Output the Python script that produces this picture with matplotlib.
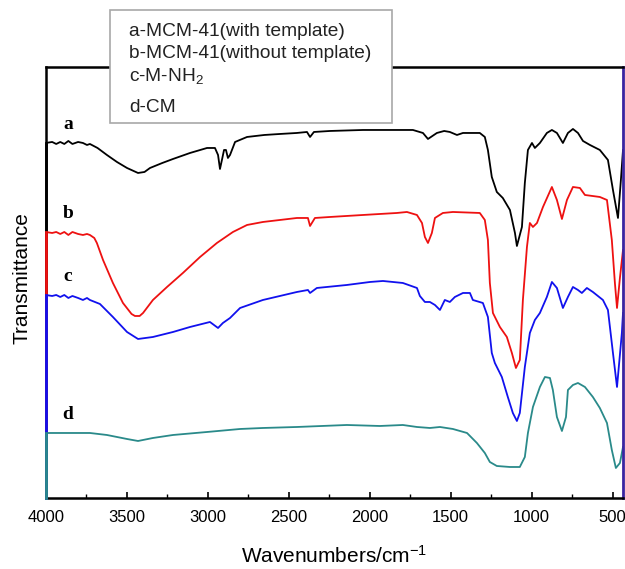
import numpy as np
import matplotlib
matplotlib.use("Agg")
import matplotlib.pyplot as plt
from matplotlib.patches import Rectangle
from matplotlib.ticker import MultipleLocator

plt.rcParams['font.family'] = ['Liberation Sans', 'DejaVu Sans']
plt.rcParams['mathtext.fontset'] = 'custom'
plt.rcParams['mathtext.rm'] = 'Liberation Sans'
plt.rcParams['mathtext.it'] = 'Liberation Sans'

# FTIR spectra, transmittance in arbitrary (offset) units
wn_a = [4000, 3960, 3935, 3910, 3885, 3860, 3835, 3800, 3770, 3745, 3727, 3680, 3622, 3560, 3498,
        3430, 3390, 3356, 3280, 3214, 3109, 3004, 2955, 2936, 2924, 2912, 2899, 2887, 2875, 2862, 2831,
        2757, 2650, 2554, 2450, 2387, 2368, 2344, 2245, 2041, 1832, 1733, 1671, 1640, 1585, 1540,
        1505, 1461, 1424, 1320, 1289, 1270, 1246, 1215, 1178, 1134, 1103, 1091, 1060, 1042, 1023,
        998, 980, 949, 906, 875, 844, 807, 776, 745, 714, 683, 640, 579, 529, 498, 467, 449, 436]
T_a = [355, 356, 354, 356, 354, 357, 354, 356, 355, 353, 354, 350, 343, 336, 330,
       325, 326, 330, 335, 339, 345, 350, 350, 343, 329, 338, 348, 348, 340, 343, 356,
       361, 363, 364, 365, 366, 361, 366, 367, 368, 368, 368, 365, 359, 365, 367,
       366, 363, 365, 365, 361, 348, 321, 306, 300, 288, 265, 252, 271, 315, 348,
       355, 350, 355, 365, 368, 365, 355, 365, 369, 365, 357, 353, 348, 338, 308, 280, 318, 348]

wn_b = [4000, 3960, 3935, 3910, 3885, 3860, 3835, 3800, 3770, 3745, 3727, 3700, 3684, 3646, 3585, 3523,
        3470, 3449, 3420, 3399, 3338, 3251, 3153, 3047, 2943, 2844, 2757, 2659, 2449, 2381, 2368, 2338, 2245,
        2041, 1832, 1770, 1708, 1677, 1659, 1640, 1616, 1597, 1548, 1486, 1320, 1289, 1270, 1258,
        1239, 1196, 1153, 1122, 1097, 1073, 1054, 1029, 1011, 992, 967, 930, 875, 844, 813,
        782, 745, 702, 671, 579, 535, 505, 486, 473, 455, 436]
T_b = [266, 265, 266, 264, 266, 263, 266, 264, 263, 264, 263, 260, 255, 238, 215, 195,
       184, 182, 182, 185, 198, 211, 225, 241, 255, 266, 273, 276, 280, 280, 272, 280, 281,
       283, 285, 286, 283, 275, 261, 255, 265, 280, 285, 286, 285, 278, 258, 215,
       185, 171, 161, 145, 130, 138, 198, 251, 275, 271, 275, 291, 311, 298, 279,
       298, 311, 310, 303, 301, 298, 258, 215, 190, 220, 248]

wn_c = [4000, 3960, 3935, 3910, 3885, 3860, 3835, 3800, 3770, 3745, 3727, 3665, 3585, 3498, 3430,
        3338, 3214, 3109, 2986, 2936, 2906, 2862, 2800, 2659, 2449, 2381, 2368, 2326, 2141, 1998,
        1918, 1795, 1708, 1690, 1659, 1628, 1597, 1566, 1536, 1505, 1474, 1424, 1381, 1363, 1301,
        1270, 1246, 1227, 1184, 1147, 1116, 1091, 1073, 1042, 1011, 980, 949, 906, 875, 844,
        807, 776, 745, 714, 690, 659, 622, 560, 529, 498, 473, 443, 436]
T_c = [203, 202, 203, 201, 203, 200, 202, 200, 198, 200, 198, 194, 181, 166, 159,
       161, 166, 171, 176, 170, 175, 180, 190, 198, 206, 208, 205, 210, 213, 216,
       217, 215, 210, 202, 196, 196, 193, 188, 198, 196, 201, 205, 205, 198, 195,
       181, 145, 135, 121, 101, 85, 77, 85, 131, 165, 178, 185, 201, 216, 210,
       190, 201, 211, 208, 205, 210, 206, 198, 188, 145, 111, 165, 185]

wn_d = [4000, 3727, 3622, 3498, 3430, 3338, 3214, 3004, 2800, 2659, 2449, 2141, 1937, 1795, 1708,
        1628, 1566, 1486, 1399, 1338, 1289, 1258, 1215, 1134, 1073, 1042, 1023, 992, 949, 918,
        887, 869, 844, 813, 788, 776, 745, 714, 671, 622, 579, 535, 505, 480, 455, 436]
T_d = [65, 65, 63, 59, 57, 60, 63, 66, 69, 70, 71, 73, 72, 73, 71,
       70, 71, 69, 65, 55, 45, 36, 32, 31, 31, 41, 65, 91, 111, 121,
       120, 108, 81, 67, 81, 108, 113, 115, 111, 101, 90, 75, 48, 30, 35, 51]

series = [(wn_a, T_a, 'black', 'a'), (wn_b, T_b, '#ee1111', 'b'),
          (wn_c, T_c, '#1111ee', 'c'), (wn_d, T_d, '#2a8a8a', 'd')]
legend_lines = ['a-MCM-41(with template)', 'b-MCM-41(without template)',
                r'c-M-NH$_\mathrm{2}$', 'd-CM']

fig = plt.figure(figsize=(6.25, 5.69), dpi=100)
ax = fig.add_axes([0.0731, 0.1248, 0.9237, 0.7575])

for wn, T, col, lab in series:
    ax.plot(wn, T, color=col, lw=1.3, solid_joinstyle='round')
    # vertical drop at the start of each trace, over the left spine
    ax.plot([wn[0], wn[0]], [T[0], 0], color=col, lw=2.0, clip_on=False, zorder=4)
    ax.text(3862, T[0] + 18, lab, fontsize=14, fontweight='bold',
            family='Liberation Serif', ha='center', va='center')

ax.set_xlim(4000, 436)
ax.set_ylim(0, 431)
ax.xaxis.set_major_locator(MultipleLocator(500))
ax.xaxis.set_minor_locator(MultipleLocator(250))
ax.tick_params(axis='x', which='both', direction='in', top=False, labelsize=12, pad=9)
ax.tick_params(axis='x', which='major', length=4, width=1.2)
ax.tick_params(axis='x', which='minor', length=3, width=1.0)
ax.set_yticks([])
for s in ['left', 'bottom', 'top']:
    ax.spines[s].set_linewidth(1.8)
ax.spines['right'].set_linewidth(2.0)
ax.spines['right'].set_color('#3a24a0')

fig.text(334 / 625, 1 - 563 / 569, 'Wavenumbers/cm$^{-1}$', fontsize=15,
         ha='center', va='baseline')
fig.text(22 / 625, 1 - 278 / 569, 'Transmittance', fontsize=15, rotation=90,
         ha='center', va='center')

# legend box (text only)
fig.add_artist(Rectangle((110 / 625, 1 - 123 / 569), 282 / 625, 113 / 569,
                         transform=fig.transFigure, facecolor='white',
                         edgecolor='#a8a8a8', lw=1.2, zorder=5))
for txt, ypx in zip(legend_lines, [31, 53, 76, 107]):
    fig.text(129 / 625, 1 - ypx / 569, txt, fontsize=13.8, ha='left', va='center',
             color='#222222', zorder=6)

fig.savefig('out.png', dpi=100)
